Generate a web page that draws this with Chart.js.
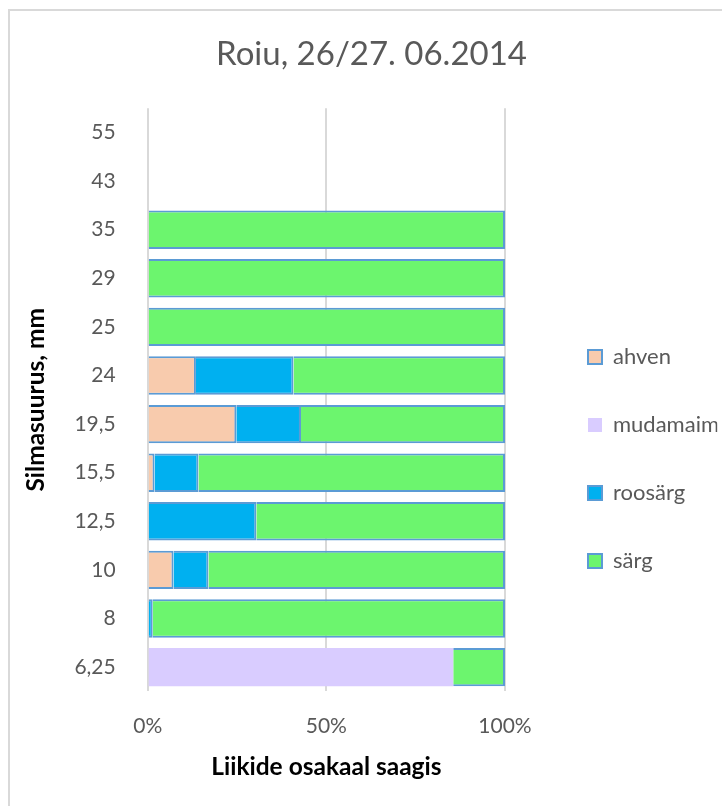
<!DOCTYPE html>
<html>
<head>
<meta charset="utf-8">
<script src="https://cdn.jsdelivr.net/npm/chart.js@4"></script>
<style>
  body { margin: 0; background: #fff; overflow: hidden; }
  .frame { position: absolute; left: 8px; top: 9px; width: 900px; height: 900px;
           border-left: 2px solid #d9d9d9; border-top: 2px solid #d9d9d9; }
  canvas { position: absolute; left: 0; top: 0; }
</style>
</head>
<body>
<div class="frame"></div>
<canvas id="chart" width="740" height="806"></canvas>
<script>
// mesh sizes, bottom to top as in the original sheet
const sizes = ['6,25', '8', '10', '12,5', '15,5', '19,5', '24', '25', '29', '35', '43', '55'];

// share of catch, %
const ahven    = [null, null, 7.2, null, 1.9, 24.8, 13.5, null, null, null, null, null];
const mudamaim = [85.5, null, null, null, null, null, null, null, null, null, null, null];
const roosarg  = [null, 1.4, 9.8, 30.4, 12.3, 18.1, 27.3, null, null, null, null, null];
const sarg     = [14.5, 98.6, 83.0, 69.6, 85.8, 57.1, 59.2, 100, 100, 100, null, null];

const xTicks = [0, 50, 100];

const edge = '#5b9bd5';
const grey = '#595959';

// legend sits a bit further away from the bars than chart.js puts it
const legendShift = {
    id: 'legendShift',
    afterLayout(chart) {
        chart.legend.left += 37;
        chart.legend.right += 37;
    }
};

new Chart(document.getElementById('chart'), {
    type: 'bar',
    data: {
        labels: sizes,
        datasets: [
            { label: 'ahven', data: ahven, backgroundColor: '#f8cbad', borderColor: edge, borderWidth: 2 },
            { label: 'mudamaim', data: mudamaim, backgroundColor: '#d9ccff', borderColor: '#d9ccff', borderWidth: 0 },
            { label: 'roosärg', data: roosarg, backgroundColor: '#00b0f0', borderColor: edge, borderWidth: 2 },
            { label: 'särg', data: sarg, backgroundColor: '#6cf56e', borderColor: edge, borderWidth: 2 }
        ]
    },
    plugins: [legendShift],
    options: {
        indexAxis: 'y',
        responsive: false,
        animation: false,
        categoryPercentage: 1,
        barPercentage: 0.79,
        layout: { padding: { left: 21, top: 8, bottom: 24, right: 18 } },
        plugins: {
            title: {
                display: true,
                text: 'Roiu, 26/27. 06.2014',
                color: grey,
                font: { family: 'Lato', size: 33, weight: 'normal' },
                padding: { top: 27, bottom: 33.6 }
            },
            legend: {
                position: 'right',
                title: { display: true, text: ' ', font: { size: 10 }, padding: { top: 116, bottom: 0 } },
                labels: {
                    color: grey,
                    font: { family: 'Lato', size: 22 },
                    boxWidth: 14,
                    boxHeight: 14,
                    padding: 46
                }
            },
            tooltip: { enabled: false }
        },
        scales: {
            x: {
                stacked: true,
                min: 0,
                max: 100,
                afterBuildTicks: (scale) => { scale.ticks = xTicks.map(v => ({ value: v })); },
                // room for the legend on the right
                afterFit: (scale) => { scale.paddingRight = 235; },
                grid: { color: '#d9d9d9', lineWidth: 2, drawTicks: false },
                border: { display: false },
                ticks: {
                    color: grey,
                    font: { family: 'Lato', size: 21 },
                    padding: 22,
                    callback: (v) => v + '%'
                },
                title: {
                    display: true,
                    text: 'Liikide osakaal saagis',
                    color: '#000',
                    font: { family: 'Lato', size: 24.5, weight: 'bold' },
                    padding: { top: -8, bottom: 0 }
                }
            },
            y: {
                stacked: true,
                reverse: true,
                grid: { display: false },
                border: { display: false },
                ticks: {
                    color: grey,
                    font: { family: 'Lato', size: 21 },
                    padding: 24
                },
                title: {
                    display: true,
                    text: 'Silmasuurus, mm',
                    color: '#000',
                    font: { family: 'Lato', size: 24.5, weight: 'bold' },
                    padding: { top: 0, bottom: 0 }
                }
            }
        }
    }
});
</script>
</body>
</html>
